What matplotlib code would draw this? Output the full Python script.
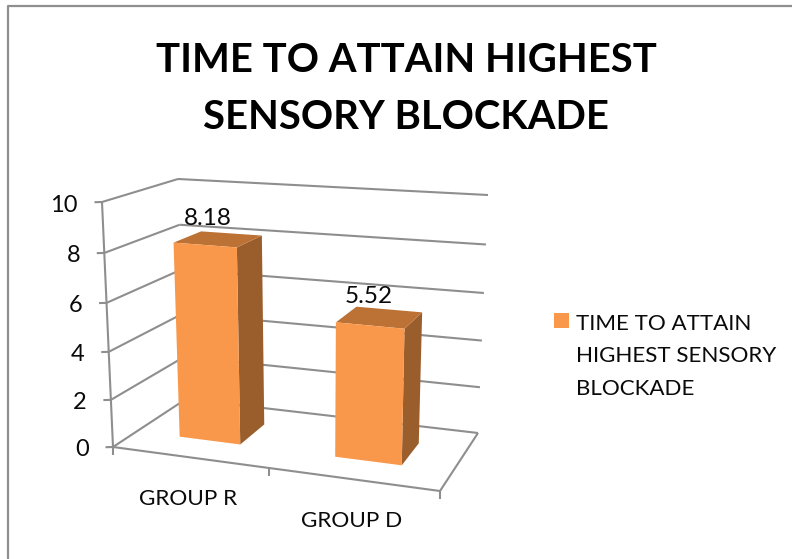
import numpy as np
import matplotlib
matplotlib.use("Agg")
import matplotlib.pyplot as plt
from matplotlib.patches import Polygon, Rectangle
from matplotlib.legend_handler import HandlerPatch

# ---- data ----
categories = ["GROUP R", "GROUP D"]
values = [8.18, 5.52]
series_name = "TIME TO ATTAIN\nHIGHEST SENSORY\nBLOCKADE"
title = "TIME TO ATTAIN HIGHEST\nSENSORY BLOCKADE"
y_ticks = [0, 2, 4, 6, 8, 10]
y_max = 10

# ---- layout: pixel corners of the 3D plot box ([u][w][v]) ----
C = np.array([
    [[[113, 447], [102, 202]], [[186, 399], [178, 179]]],
    [[[440, 491], [447, 226]], [[478, 433], [488, 195]]],
], dtype=float)
u_bounds = [0, 0.476, 1]          # category boundaries along the floor
bar_u = [(0.135, 0.327), (0.628, 0.839)]
bar_w = (0.33, 0.72)
V_PERSPECTIVE = 1.05              # foreshortening of the value axis

FRONT, TOP, SIDE = "#F9974A", "#BD7235", "#9A5E2C"
GRID = "#8E8E8E"
TXT = "#0A0A0A"
plt.rcParams["font.family"] = ["Lato", "DejaVu Sans"]


def proj(u, w, val):
    """Projective map from (category axis, depth, value) to pixels."""
    v = val / y_max
    v = v / (v + V_PERSPECTIVE * (1 - v))
    p = np.zeros(2)
    for i, a in enumerate((1 - u, u)):
        for j, b in enumerate((1 - w, w)):
            for k, c in enumerate((1 - v, v)):
                p += a * b * c * C[i, j, k]
    return p


fig = plt.figure(figsize=(7.92, 5.59), dpi=100, facecolor="white")
ax = fig.add_axes([0, 0, 1, 1])
ax.set_xlim(0, 792)
ax.set_ylim(559, 0)
ax.axis("off")


def line(a, b, lw=1.5, color=GRID, z=1):
    ax.plot([a[0], b[0]], [a[1], b[1]], color=color, lw=lw, zorder=z,
            solid_capstyle="butt")


# chart-area border
ax.plot([8, 8, 792], [559, 6, 6], color="#8F8F8F", lw=1.6, zorder=1)

# walls, gridlines, ticks
for t in y_ticks:
    f, b, r = proj(0, 0, t), proj(0, 1, t), proj(1, 1, t)
    line(f, b)
    line(b, r)
    line(f, f + np.array([-7.5, 0.2]))
    ax.text(f[0] - 24, f[1] + 3, str(t), ha="right", va="center",
            fontsize=17, color=TXT, zorder=5)
line(proj(0, 0, 0), proj(0, 0, y_max))

# floor front & right edges, category ticks
line(proj(0, 0, 0), proj(1, 0, 0))
line(proj(1, 0, 0), proj(1, 1, 0))
for ub in u_bounds:
    p = proj(ub, 0, 0)
    line(p, p + np.array([0, 8]))

# bars
for (u0, u1), val in zip(bar_u, values):
    w0, w1 = bar_w
    side = [proj(u1, w0, 0), proj(u1, w1, 0), proj(u1, w1, val), proj(u1, w0, val)]
    top = [proj(u0, w0, val), proj(u1, w0, val), proj(u1, w1, val), proj(u0, w1, val)]
    front = [proj(u0, w0, 0), proj(u1, w0, 0), proj(u1, w0, val), proj(u0, w0, val)]
    ax.add_patch(Polygon(side, closed=True, fc=SIDE, ec="none", zorder=3))
    ax.add_patch(Polygon(top, closed=True, fc=TOP, ec="none", zorder=3))
    ax.add_patch(Polygon(front, closed=True, fc=FRONT, ec="none", zorder=3))
    c = np.mean(top, axis=0)
    ax.text(c[0] - 11, c[1] - 21, f"{val:.2f}", ha="center", va="center",
            fontsize=17.5, color=TXT, zorder=6)

# category labels
cat_xy = [(188.5, 499), (352, 521)]
for name, (x, y) in zip(categories, cat_xy):
    ax.text(x, y, name, ha="center", va="center", fontsize=16.2, color=TXT, zorder=5)

# title
ax.text(406, 89, title, ha="center", va="center", fontsize=28.8, fontweight="bold",
        color="black", linespacing=1.68, zorder=5)


# legend
def square(legend, orig_handle, xdescent, ydescent, width, height, fontsize):
    return Rectangle((0, 26.3), 11, 11)


swatch = Rectangle((0, 0), 1, 1, fc=FRONT, ec="none")
leg = ax.legend([swatch], [series_name], loc="upper left", frameon=False,
                bbox_to_anchor=(554, 314), bbox_transform=ax.transData,
                borderpad=0, borderaxespad=0, handlelength=0.68, handleheight=0.7,
                handletextpad=0.3, fontsize=16.1,
                labelcolor=TXT,
                handler_map={Rectangle: HandlerPatch(patch_func=square)})
for t in leg.get_texts():
    t.set_linespacing(1.77)

fig.savefig("out.png", dpi=100, facecolor="white")
